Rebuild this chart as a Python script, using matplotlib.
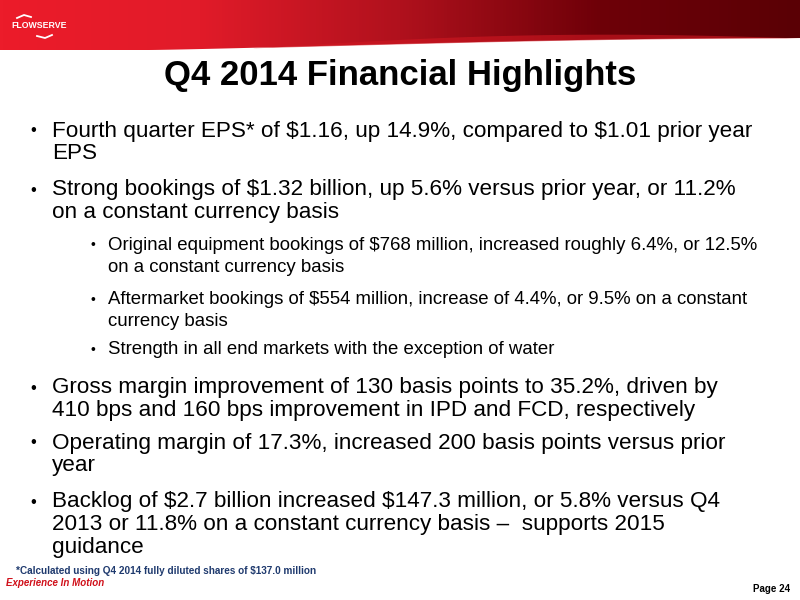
import matplotlib
matplotlib.use("Agg")
import matplotlib.pyplot as plt
import numpy as np
from matplotlib.patches import Polygon
from matplotlib.colors import LinearSegmentedColormap

plt.rcParams['font.family'] = ['Liberation Sans', 'DejaVu Sans']

title = "Q4 2014 Financial Highlights"
# (level, y-center of each line, lines)
bullets = [
    (0, 131, ["Fourth quarter EPS* of $1.16, up 14.9%, compared to $1.01 prior year", "EPS"]),
    (0, 190, ["Strong bookings of $1.32 billion, up 5.6% versus prior year, or 11.2%", "on a constant currency basis"]),
    (1, 245, ["Original equipment bookings of $768 million, increased roughly 6.4%, or 12.5%", "on a constant currency basis"]),
    (1, 300, ["Aftermarket bookings of $554 million, increase of 4.4%, or 9.5% on a constant", "currency basis"]),
    (1, 350, ["Strength in all end markets with the exception of water"]),
    (0, 388, ["Gross margin improvement of 130 basis points to 35.2%, driven by", "410 bps and 160 bps improvement in IPD and FCD, respectively"]),
    (0, 443, ["Operating margin of 17.3%, increased 200 basis points versus prior", "year"]),
    (0, 502, ["Backlog of $2.7 billion increased $147.3 million, or 5.8% versus Q4", "2013 or 11.8% on a constant currency basis \u2013  supports 2015", "guidance"]),
]
footnote = "*Calculated using Q4 2014 fully diluted shares of $137.0 million"
tagline = "Experience In Motion"
page = "Page 24"

fig = plt.figure(figsize=(8, 6), dpi=100)
ax = fig.add_axes([0, 0, 1, 1])
ax.set_xlim(0, 800)
ax.set_ylim(600, 0)
ax.axis('off')

# header gradient band with curved bottom
xs = np.linspace(0, 800, 200)
bottom = 50 - 12 * np.sin(np.clip((xs - 150) / 650, 0, 1) * np.pi / 2) ** 1.2
cmap = LinearSegmentedColormap.from_list("hdr", ["#ec1c2a", "#e11b29", "#b0111d", "#6e0008", "#5a0005"])
grad = np.linspace(0, 1, 256)[None, :]
im = ax.imshow(grad, extent=[0, 800, 60, 0], aspect='auto', cmap=cmap, zorder=1)
poly = Polygon(np.column_stack([np.r_[xs, 800, 0], np.r_[bottom, 0, 0]]), closed=True,
               transform=ax.transData, facecolor='none', edgecolor='none')
ax.add_patch(poly)
im.set_clip_path(poly)
sw_top = bottom - 6 * np.sin(np.clip((xs - 250) / 550, 0, 1) * np.pi)
ax.fill_between(xs, sw_top, bottom, where=xs > 250, color="#d01822", alpha=0.6, zorder=2, lw=0)
ax.set_xlim(0, 800)
ax.set_ylim(600, 0)

ax.text(11, 26, "FLOWSERVE", color='white', fontsize=6.3, fontweight='bold', va='center', zorder=3)
ax.plot([17, 24, 31], [18, 15, 17], color='white', lw=1.3, zorder=3)
ax.plot([37, 45, 52], [36, 38, 35], color='white', lw=1.3, zorder=3)

ax.text(400, 75, title, fontsize=25, fontweight='bold', ha='center', va='center', color='black')

for level, y0, lines in bullets:
    if level == 0:
        bx, tx, fs, dy, bfs = 33, 52, 16.2, 22.5, 12
    else:
        bx, tx, fs, dy, bfs = 93, 108, 13.4, 22, 10
    ax.text(bx, y0, "\u2022", fontsize=bfs, va='center', ha='center', color='black')
    for i, ln in enumerate(lines):
        ax.text(tx, y0 + i * dy, ln, fontsize=fs, va='center', color='black', parse_math=False)

ax.text(16, 571, footnote, fontsize=7.2, fontweight='bold', color='#1f3a6e', va='center', parse_math=False)
ax.text(6, 583, tagline, fontsize=7, fontweight='bold', style='italic', color='#d0101a', va='center')
ax.text(790, 589, page, fontsize=7, fontweight='bold', color='black', va='center', ha='right')

fig.savefig("out.png", dpi=100)
